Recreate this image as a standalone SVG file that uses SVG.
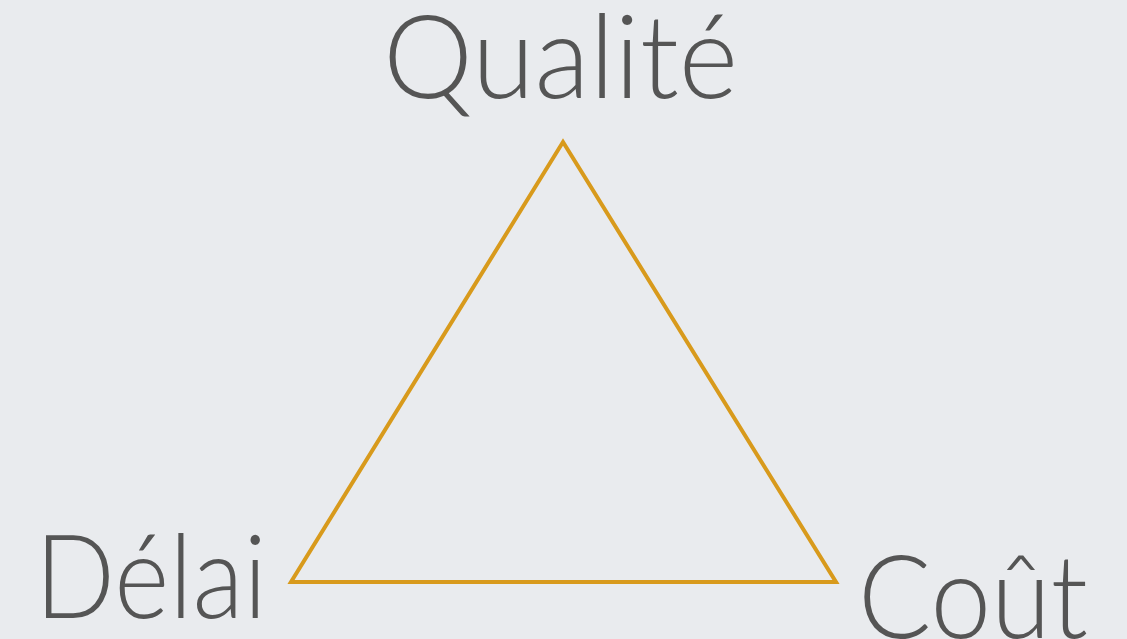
<svg xmlns="http://www.w3.org/2000/svg" width="1127" height="639" viewBox="0 0 1127 639">
  <style>
    .lbl { font-family: Lato, "Open Sans", "Liberation Sans", sans-serif; font-weight: 300; font-size: 116px; fill: #555555; }
    .edge { fill: none; stroke: #D89A1C; stroke-width: 4; stroke-linejoin: miter; }
  </style>
  <rect x="0" y="0" width="1127" height="639" fill="#e9ebee"/>
  <g id="connectors">
    <polygon class="edge" points="563,142 291,582 836,582"/>
  </g>
  <g id="node-qualite">
    <text class="lbl" x="383" y="98" textLength="355" lengthAdjust="spacingAndGlyphs">Qualité</text>
  </g>
  <g id="node-delai">
    <text class="lbl" x="35" y="618" textLength="232" lengthAdjust="spacingAndGlyphs">Délai</text>
  </g>
  <g id="node-cout">
    <text class="lbl" x="858" y="638" textLength="230" lengthAdjust="spacingAndGlyphs">Coût</text>
  </g>
</svg>
